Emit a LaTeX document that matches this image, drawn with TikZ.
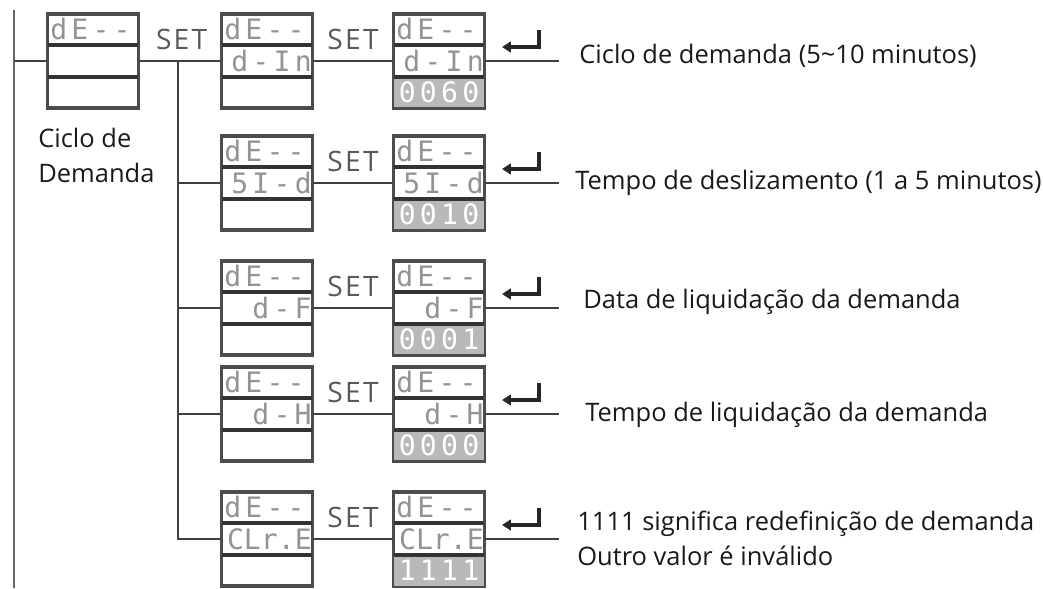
\documentclass[tikz,border=0pt]{standalone}
\usepackage{fontspec}
\setmainfont{Open Sans}
\newfontfamily\segfont[LetterSpace=15]{DejaVu Sans Mono}
\usetikzlibrary{arrows.meta,positioning,calc}

\tikzset{
  wire/.style={draw=black!75, line width=1.1pt},
  rail/.style={draw=black!60, line width=1.6pt},
  lcd/.style={draw=black!70, line width=1.2pt, minimum width=1.8cm,
    minimum height=1.86cm, inner sep=0pt},
  lcdsep/.style={draw=black!80, line width=2pt},
  seg/.style={font=\segfont\fontsize{16}{16}\selectfont, text=gray!85, inner sep=0pt},
  segval/.style={seg, text=white},
  setlbl/.style={font=\fontsize{16}{16}\selectfont\addfontfeature{LetterSpace=8},
    text=black!65, inner sep=0pt},
  note/.style={font=\fontsize{14.5}{20}\selectfont, text=black!90, inner sep=0pt,
    anchor=west, align=left},
  enterkey/.style={draw=black!85, line width=1.8pt, -{Triangle[length=5pt,width=6pt]}}
}

% one display: name, position, top row, middle row, bottom row
\newcommand{\lcdbox}[5]{%
  \node[lcd] (#1) at (#2) {};
  \if\relax\detokenize{#5}\relax\else
    \fill[gray!55] ($(#1.north west)!2/3!(#1.south west)$) rectangle (#1.south east);
  \fi
  \draw[lcdsep] ($(#1.north west)!1/3!(#1.south west)$) -- ($(#1.north east)!1/3!(#1.south east)$);
  \draw[lcdsep] ($(#1.north west)!2/3!(#1.south west)$) -- ($(#1.north east)!2/3!(#1.south east)$);
  \node[seg, anchor=west] (#1-top) at ($(#1.north west)!1/6!(#1.south west)+(0.06cm,0)$) {#3};
  \node[seg, anchor=east] (#1-mid) at ($(#1.east)+(-0.02cm,0)$) {#4};
  \node[segval] (#1-bot) at ($(#1.north)!5/6!(#1.south)$) {#5};
  \draw[lcd, fill=none] (#1.north west) rectangle (#1.south east);
}

\begin{document}
\begin{tikzpicture}[x=0.02cm, y=-0.02cm]
% frame of the picture, in pixels of the original
\useasboundingbox (0,0) rectangle (1043,588);

% the left rail and the first display
\coordinate (railtop) at (14,10);
\coordinate (railbot) at (14,588);
\draw[rail] (railtop) -- (railbot);
\lcdbox{disp}{93,61}{dE--}{}{}
\draw[wire] (railtop |- disp.west) -- (disp.west);
\node[note, anchor=north west] (dispname) at (38,128) {Ciclo de\\Demanda};

% branch point behind the first SET
\coordinate (br) at (178,61);

% each row: y / middle text / value / text x / text y / meaning
\foreach \y/\mid/\val/\tx/\ty/\txt [count=\i] in {
    61/d-In/0060/579/56/{Ciclo de demanda (5\textasciitilde10 minutos)},
    183/5I-d/0010/575/183/{Tempo de deslizamento (1 a 5 minutos)},
    308/{\ d-F}/0001/583/302/{Data de liquidação da demanda},
    414/{\ d-H}/0000/585/415/{Tempo de liquidação da demanda},
    539/{\addfontfeature{LetterSpace=0}CLr.E}/1111/577/538/{1111 significa redefinição de demanda\\Outro valor é inválido}}{
  \lcdbox{sel\i}{267,\y}{dE--}{\mid}{}
  \lcdbox{val\i}{439,\y}{dE--}{\mid}{\val}
  \draw[wire] (sel\i.east) -- (val\i.west)
    node[setlbl, midway, above=6pt] (set\i) {SET};
  \coordinate (end\i) at (559,\y);
  \draw[wire] (val\i.east) -- (end\i);
  \draw[enterkey] (539,\y-31) -- (539,\y-14) -- (502,\y-14);
  \node[note] (txt\i) at (\tx,\ty) {\txt};
}

% SET from the first display and the branch down to the rows
\draw[wire] (disp.east) -- (sel1.west)
  node[setlbl, pos=0.52, above=6pt] (set0) {SET};
\draw[wire] (br) -- (br |- sel5.west) -- (sel5.west);
\foreach \i in {2,3,4}
  \draw[wire] (br |- sel\i.west) -- (sel\i.west);
\end{tikzpicture}
\end{document}
